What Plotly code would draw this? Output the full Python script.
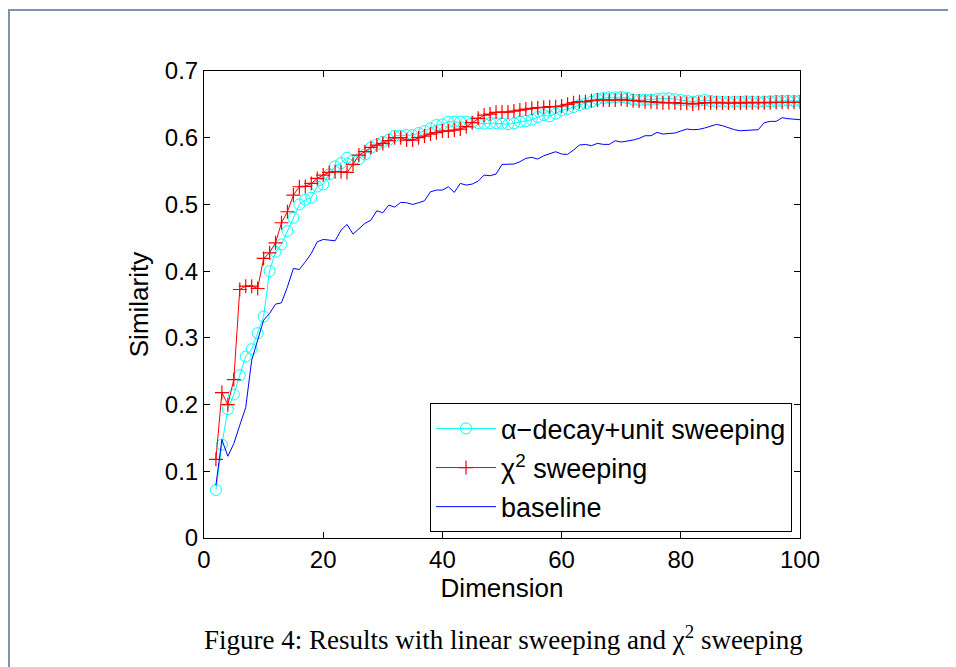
import plotly.graph_objects as go

dims = list(range(2, 101))

alpha_decay = [
    0.072, 0.140, 0.193, 0.215, 0.244, 0.272, 0.283, 0.307, 0.332, 0.400,
    0.429, 0.440, 0.460, 0.480, 0.500, 0.507, 0.510, 0.527, 0.530, 0.545,
    0.557, 0.562, 0.570, 0.566, 0.568, 0.575, 0.585, 0.590, 0.594, 0.597,
    0.603, 0.603, 0.604, 0.604, 0.607, 0.610, 0.614, 0.619, 0.620, 0.624,
    0.624, 0.624, 0.624, 0.623, 0.622, 0.621, 0.622, 0.622, 0.621, 0.620,
    0.6215, 0.624, 0.625, 0.627, 0.631, 0.634, 0.632, 0.636, 0.641, 0.643,
    0.646, 0.649, 0.651, 0.654, 0.658, 0.6595, 0.6605, 0.6605, 0.661, 0.6595,
    0.657, 0.6565, 0.657, 0.657, 0.658, 0.659, 0.659, 0.658, 0.6565, 0.6555,
    0.654, 0.6555, 0.6565, 0.655, 0.654, 0.654, 0.6535, 0.654, 0.654, 0.6545,
    0.654, 0.6535, 0.654, 0.6545, 0.655, 0.655, 0.6555, 0.655, 0.6555,
]

chi2 = [
    0.118, 0.218, 0.200, 0.2375, 0.3725, 0.3775, 0.3775, 0.374, 0.419, 0.4275,
    0.4425, 0.4725, 0.489, 0.514, 0.5265, 0.527, 0.5315, 0.539, 0.544, 0.548,
    0.549, 0.549, 0.548, 0.560, 0.574, 0.579, 0.5855, 0.589, 0.5915, 0.5955,
    0.600, 0.600, 0.5965, 0.5965, 0.600, 0.6025, 0.6055, 0.6075, 0.610, 0.610,
    0.6115, 0.613, 0.6165, 0.6225, 0.629, 0.634, 0.6355, 0.638, 0.6385, 0.6385,
    0.640, 0.6415, 0.643, 0.644, 0.645, 0.6455, 0.6465, 0.6465, 0.6475, 0.650,
    0.6525, 0.654, 0.654, 0.6555, 0.6565, 0.6565, 0.6565, 0.6565, 0.6575, 0.6565,
    0.6555, 0.655, 0.654, 0.654, 0.653, 0.6525, 0.6525, 0.6525, 0.6515, 0.6515,
    0.6505, 0.6515, 0.6525, 0.6525, 0.6525, 0.652, 0.652, 0.652, 0.652, 0.6525,
    0.6525, 0.6525, 0.6525, 0.6525, 0.653, 0.653, 0.653, 0.653, 0.653,
]

baseline = [
    0.079, 0.1475, 0.1225, 0.1415, 0.169, 0.1955, 0.2665, 0.2965, 0.3265, 0.3365,
    0.3505, 0.3525, 0.3765, 0.404, 0.4025, 0.414, 0.4265, 0.444, 0.4475, 0.4465,
    0.4455, 0.4615, 0.470, 0.4555, 0.464, 0.4715, 0.4765, 0.4905, 0.4875, 0.499,
    0.496, 0.503, 0.5025, 0.500, 0.5025, 0.5055, 0.519, 0.5215, 0.5215, 0.5265,
    0.518, 0.5315, 0.529, 0.5305, 0.535, 0.544, 0.543, 0.5455, 0.560, 0.560,
    0.5605, 0.564, 0.569, 0.5705, 0.568, 0.573, 0.5765, 0.579, 0.5755, 0.575,
    0.5815, 0.589, 0.590, 0.588, 0.5915, 0.590, 0.590, 0.5955, 0.5935, 0.5945,
    0.5965, 0.599, 0.603, 0.603, 0.608, 0.6055, 0.6065, 0.607, 0.610, 0.613,
    0.612, 0.6125, 0.6145, 0.617, 0.620, 0.618, 0.6145, 0.612, 0.6105, 0.611,
    0.612, 0.612, 0.6225, 0.6245, 0.6245, 0.630, 0.6285, 0.6275, 0.627,
]

x_ticks = [0, 20, 40, 60, 80, 100]
y_ticks = [0, 0.1, 0.2, 0.3, 0.4, 0.5, 0.6, 0.7]
y_tick_labels = ["0", "0.1", "0.2", "0.3", "0.4", "0.5", "0.6", "0.7"]

series_names = ["α−decay+unit sweeping", "χ<sup>2</sup> sweeping", "baseline"]

FONT = "Liberation Sans, Arial, Helvetica, sans-serif"

fig = go.Figure()
fig.add_trace(go.Scatter(
    x=dims, y=alpha_decay, name=series_names[0], mode="lines+markers", legendgroup="g1",
    line=dict(color="#00ffff", width=1),
    marker=dict(symbol="circle-open", size=11, color="#00ffff", line=dict(width=1)),
))
fig.add_trace(go.Scatter(
    x=dims, y=chi2, name=series_names[1], mode="lines+markers", legendgroup="g2",
    line=dict(color="#ff0000", width=1),
    marker=dict(symbol="cross-thin-open", size=10, color="#ff0000", line=dict(width=1.2, color="#ff0000")),
))
fig.add_trace(go.Scatter(
    x=dims, y=baseline, name=series_names[2], mode="lines", legendgroup="g3",
    line=dict(color="#0000ff", width=1),
))

axis_common = dict(
    showline=True, linecolor="black", linewidth=1, mirror="allticks",
    ticks="inside", ticklen=6, tickcolor="black", tickwidth=1,
    showgrid=False, zeroline=False,
    tickfont=dict(family=FONT, size=24, color="black"),
)

fig.update_xaxes(range=[0, 100], tickvals=x_ticks, ticktext=[str(v) for v in x_ticks],
                 title=dict(text="Dimension", font=dict(family=FONT, size=26, color="black"), standoff=0),
                 **axis_common)
fig.update_yaxes(range=[0, 0.7], tickvals=y_ticks, ticktext=y_tick_labels,
                 title=dict(text="Similarity", font=dict(family=FONT, size=26, color="black"), standoff=8),
                 **axis_common)

fig.add_shape(type="rect", xref="paper", yref="paper",
              x0=-0.3272, x1=1.4, y0=-0.4, y1=1.1306,
              line=dict(color="#7f93ab", width=2), fillcolor="rgba(0,0,0,0)", layer="below")

fig.add_annotation(xref="paper", yref="paper", x=0.5017, y=-0.214,
                   text="Figure 4: Results with linear sweeping and χ<sup>2</sup> sweeping",
                   showarrow=False, xanchor="center", yanchor="middle",
                   font=dict(family="Liberation Serif, Times New Roman, serif", size=27, color="black"))

fig.update_layout(
    width=956, height=667,
    margin=dict(l=196, r=164, t=63, b=137),
    paper_bgcolor="white", plot_bgcolor="white",
    showlegend=True,
    legend=dict(x=0.9866, y=0.012, xanchor="right", yanchor="bottom",
                bgcolor="white", bordercolor="black", borderwidth=1,
                font=dict(family=FONT, size=27, color="black"),
                itemwidth=60, tracegroupgap=1),
)

fig.write_html("out.html")
